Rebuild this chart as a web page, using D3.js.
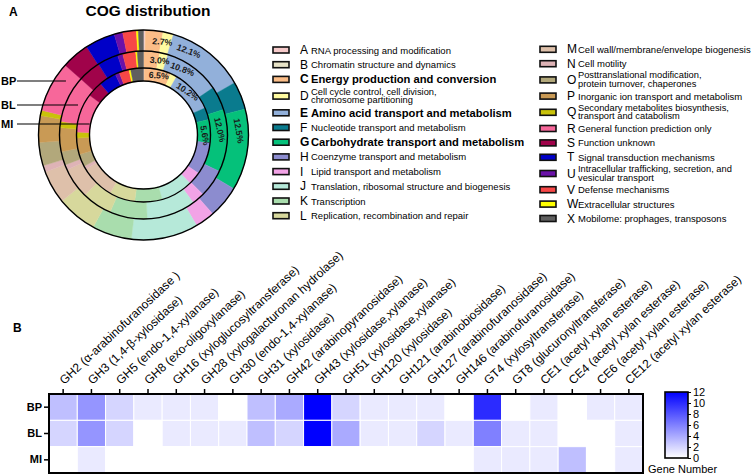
<!DOCTYPE html>
<html><head><meta charset="utf-8">
<script src="https://cdn.jsdelivr.net/npm/d3@7"></script>
<style>body{margin:0;background:#fff}svg{display:block;font-family:"Liberation Sans",Arial,sans-serif}</style>
</head><body><svg id="c" width="756" height="475"></svg>
<script>
// ---------- DATA ----------
const cogLetters = ["A","B","C","D","E","F","G","H","I","J","K","L","M","N","O","P","Q","R","S","T","U","V","W","X"];
const cogNames = [
  "RNA processing and modification",
  "Chromatin structure and dynamics",
  "Energy production and conversion",
  "Cell cycle control, cell division,\nchromosome partitioning",
  "Amino acid transport and metabolism",
  "Nucleotide transport and metabolism",
  "Carbohydrate transport and metabolism",
  "Coenzyme transport and metabolism",
  "Lipid transport and metabolism",
  "Translation, ribosomal structure  and biogenesis",
  "Transcription",
  "Replication, recombination and repair",
  "Cell wall/membrane/envelope biogenesis",
  "Cell motility",
  "Posttranslational modification,\nprotein turnover, chaperones",
  "Inorganic ion transport and metabolism",
  "Secondary metabolites biosynthesis,\ntransport and catabolism",
  "General function prediction only",
  "Function unknown",
  "Signal transduction mechanisms",
  "Intracellular trafficking, secretion, and\nvesicular transport",
  "Defense mechanisms",
  "Extracellular structures",
  "Mobilome: prophages, transposons"
];
const cogColors = ["#F6CACA","#E6E2C6","#FBBD88","#FFFBA0","#92B0DA","#0A7B8E","#05C17A","#8C8CCF",
  "#F2A3E6","#B6E9D9","#A9DDAD","#D7D89C","#DEC0AA","#DEB3B6","#B2A87B","#C99A55",
  "#C9C20A","#F7679A","#A0034A","#0000C8","#6A11A8","#F74747","#FFFF00","#5F5F5F"];
const boldCogs = ["C","E","G"];
// percentage of genes per COG category (A..X)
const bpPct = [0.3,0,2.7,1.6,12.1,4.3,12.5,5.0,3.0,10.3,6.1,6.2,5.1,1.0,3.6,4.1,0.8,7.8,4.3,4.6,1.3,2.1,0.3,0.8];
const blPct = [0.1,0,3.0,1.6,10.8,4.6,12.0,5.4,2.4,9.4,7.2,5.8,5.9,1.0,2.6,4.6,1.2,9.0,4.4,4.0,1.0,2.5,0.3,1.2];
const miPct = [0.2,0,6.5,1.5,10.2,2.9,5.6,7.8,3.1,7.7,6.6,6.2,8.2,0.8,3.0,4.0,1.4,9.4,3.8,4.2,1.0,2.4,0.4,3.1];
const ringNames = ["BP","BL","MI"];

const enzymes = ["GH2 (\u03b1-arabinofuranosidase )","GH3 (1,4-\u03b2-xylosidase)","GH5 (endo-1,4-xylanase)",
  "GH8 (exo-oligoxylanase)","GH16 (xyloglucosyltransferase)","GH28 (xylogalacturonan hydrolase)",
  "GH30 (endo-1,4-xylanase)","GH31 (xylosidase)","GH42 (arabinopyranosidase)","GH43 (xylosidase,xylanase)",
  "GH51 (xylosidase,xylanase)","GH120 (xylosidase)","GH121 (arabinobiosidase)","GH127 (arabinofuranosidase)",
  "GH146 (arabinofuranosidase)","GT4 (xylosyltransferase)","GT8 (glucuronyltransferase)",
  "CE1 (acetyl xylan esterase)","CE4 (acetyl xylan esterase)","CE6 (acetyl xylan esterase)","CE12 (acetyl xylan esterase)"];
const heatBP = [3,5,2,1,1,1,0,3,4,12,2,1,1,1,0,10,0,1,0,1,1];
const heatBL = [2,5,2,0,1,1,1,3,2,12,4,1,1,2,1,6,1,1,0,0,1];
const heatMI = [0,1,0,0,0,0,0,0,0,0,0,0,0,0,0,1,1,1,3,0,1];
const colorbarTicks = [0,2,4,6,8,10,12];

// ---------- CHART ----------
const svg = d3.select("#c");
const FONT = '"Liberation Sans",Arial,sans-serif';

// Panel labels & title
svg.append("text").attr("x",9).attr("y",16).attr("font-weight","bold").attr("font-size",12).text("A");
svg.append("text").attr("x",148).attr("y",16).attr("text-anchor","middle").attr("font-weight","bold").attr("font-size",15.5).text("COG distribution");
svg.append("text").attr("x",13).attr("y",332).attr("font-weight","bold").attr("font-size",12).text("B");

// Donut
const cx = 143.5, cy = 135;
const ringR = [[84,105],[67,84],[54,67]];
const ringData = [bpPct, blPct, miPct];
const pie = d3.pie().sort(null).value(d => d.v).startAngle(0).endAngle(2*Math.PI);
const g = svg.append("g").attr("transform",`translate(${cx},${cy})`);
ringData.forEach((vals, ri) => {
  const arcs = pie(vals.map((v,i)=>({v, c: cogLetters[i], i})));
  const arc = d3.arc().innerRadius(ringR[ri][0]).outerRadius(ringR[ri][1]);
  g.selectAll(null).data(arcs).join("path")
    .attr("d", arc).attr("fill", d => cogColors[d.data.i])
    .attr("stroke", d => cogColors[d.data.i]).attr("stroke-width",0.4);
  const rm = (ringR[ri][0]+ringR[ri][1])/2;
  arcs.filter(a => boldCogs.includes(a.data.c)).forEach(a => {
    const th = a.startAngle + 0.075;
    const x = rm*Math.sin(th), y = -rm*Math.cos(th);
    g.append("text").attr("transform",`translate(${x},${y}) rotate(${th*180/Math.PI})`)
      .attr("text-anchor","start").attr("dominant-baseline","central")
      .attr("font-size",8.8).attr("font-weight","bold").attr("fill","#1a1a1a")
      .text(d3.format(".1f")(a.data.v)+"%");
  });
});
[54,67,84,105].forEach(r => g.append("circle").attr("r",r).attr("fill","none").attr("stroke","#000").attr("stroke-width",1.4));

// ring pointer labels
const pointerY = [81,105,124];
const pointerR = [94.5,72,55];
ringNames.forEach((n,i) => {
  const dy = pointerY[i]-cy;
  const x2 = cx - Math.sqrt(pointerR[i]*pointerR[i]-dy*dy);
  svg.append("line").attr("x1",17).attr("x2",x2).attr("y1",pointerY[i]).attr("y2",pointerY[i]).attr("stroke","#000").attr("stroke-width",1.2);
  svg.append("text").attr("x",1).attr("y",pointerY[i]).attr("dominant-baseline","central").attr("font-weight","bold").attr("font-size",11).text(n);
});

// Legend
function legendCol(startIdx, count, x0, y0, step, extra) {
  let y = y0;
  for (let k=0;k<count;k++) {
    const i = startIdx+k;
    const twoLine = cogNames[i].includes("\n");
    if (k>0) y += step + (twoLine ? extra : 0);
    const bold = boldCogs.includes(cogLetters[i]);
    svg.append("rect").attr("x",x0).attr("y",y-3).attr("width",16).attr("height",6)
      .attr("fill",cogColors[i]).attr("stroke","#111").attr("stroke-width",1.6);
    svg.append("text").attr("x",x0+27).attr("y",y).attr("dominant-baseline","central")
      .attr("font-size",12).attr("font-weight",bold?"bold":"normal").text(cogLetters[i]);
    const tx = x0 + 38;
    if (twoLine) {
      const parts = cogNames[i].split("\n");
      const t = svg.append("text").attr("font-size",9.3).attr("dominant-baseline","central");
      parts.forEach((p,j)=> t.append("tspan").attr("x",tx).attr("y",y-4.6+j*8.6).text(p));
    } else {
      svg.append("text").attr("x",tx).attr("y",y).attr("dominant-baseline","central")
        .attr("font-size",bold?11.2:9.5).attr("font-weight",bold?"bold":"normal").text(cogNames[i]);
    }
    if (twoLine) y += extra;
  }
}
legendCol(0,12,273,50,14.7,2.0);
legendCol(12,12,540,49.3,14.4,1.8);

// Heatmap
const rows = ringNames;
const heat = [heatBP, heatBL, heatMI];
const hx = d3.scaleBand().domain(enzymes).range([49,643]);
const hy = d3.scaleBand().domain(rows).range([394,473]);
const col = d3.scaleLinear().domain([0,12]).range(["#ffffff","#0000ff"]);
const cells = [];
rows.forEach((r,ri)=> enzymes.forEach((e,ei)=> cells.push({r,e,v:heat[ri][ei]})));
svg.append("g").selectAll("rect").data(cells).join("rect")
  .attr("x",d=>hx(d.e)).attr("y",d=>hy(d.r)).attr("width",hx.bandwidth()).attr("height",hy.bandwidth())
  .attr("fill",d=>col(d.v)).attr("stroke","#fff").attr("stroke-width",1);
svg.append("rect").attr("x",49).attr("y",394).attr("width",594).attr("height",79)
  .attr("fill","none").attr("stroke","#000").attr("stroke-width",2);

const xAxis = svg.append("g").attr("transform","translate(0,394)")
  .call(d3.axisTop(hx).tickSize(5).tickSizeOuter(0));
xAxis.select(".domain").remove();
xAxis.selectAll("line").attr("stroke","#000").attr("stroke-width",1.5);
xAxis.selectAll("text").attr("x",0).attr("y",0).attr("dy",0)
  .attr("transform","translate(1,-9) rotate(-43)").attr("text-anchor","start")
  .attr("font-size",12).attr("font-family",FONT).attr("fill","#000");

const yAxis = svg.append("g").attr("transform","translate(49,0)")
  .call(d3.axisLeft(hy).tickSize(5).tickSizeOuter(0));
yAxis.select(".domain").remove();
yAxis.selectAll("line").attr("stroke","#000").attr("stroke-width",1.5);
yAxis.selectAll("text").attr("font-size",11).attr("font-weight","bold").attr("font-family",FONT).attr("fill","#000").attr("x",-7);

// Colorbar
const defs = svg.append("defs");
const grad = defs.append("linearGradient").attr("id","cb").attr("x1",0).attr("y1",1).attr("x2",0).attr("y2",0);
colorbarTicks.forEach(t => grad.append("stop").attr("offset",t/12).attr("stop-color",col(t)));
const cbY = d3.scaleLinear().domain([0,12]).range([458,392]);
svg.append("rect").attr("x",665).attr("y",392).attr("width",23).attr("height",66)
  .attr("fill","url(#cb)").attr("stroke","#000").attr("stroke-width",1.6);
const cbAxis = svg.append("g").attr("transform","translate(688,0)")
  .call(d3.axisRight(cbY).tickValues(colorbarTicks).tickSize(3).tickSizeOuter(0));
cbAxis.select(".domain").remove();
cbAxis.selectAll("line").attr("stroke","#000");
cbAxis.selectAll("text").attr("font-size",11).attr("font-family",FONT).attr("fill","#000").attr("x",5);
svg.append("text").attr("x",648).attr("y",473).attr("font-size",11).text("Gene Number");
</script></body></html>
